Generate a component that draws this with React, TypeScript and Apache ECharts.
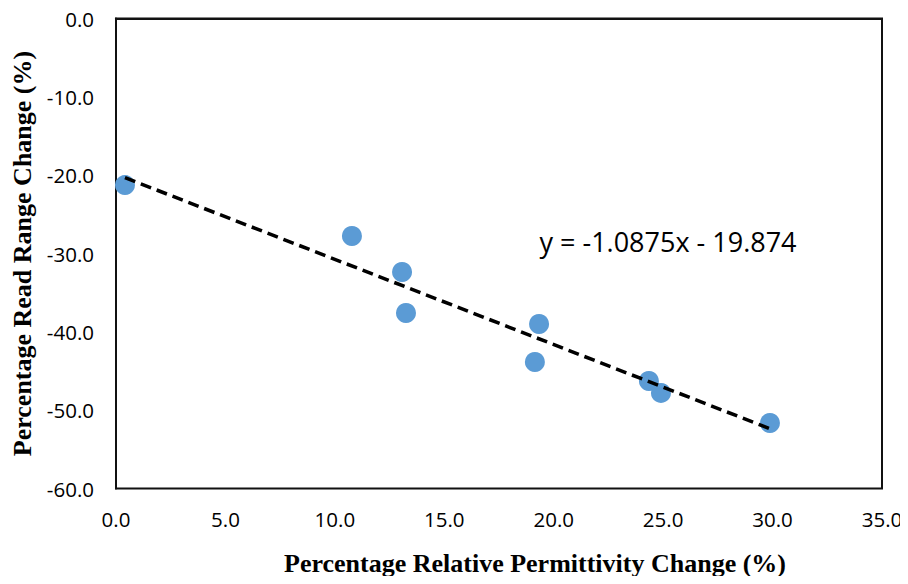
import React, { useEffect, useRef } from "react";
import * as echarts from "echarts";

const permittivityChange = [0.41, 10.78, 13.07, 13.25, 19.33, 19.14, 24.35, 24.9, 29.88];
const readRangeChange = [-21.26, -27.77, -32.36, -37.6, -39.0, -43.85, -46.28, -47.8, -51.64];
const trendSlope = -1.0875;
const trendIntercept = -19.874;
const equationText = "y = -1.0875x - 19.874";
const xTitle = "Percentage Relative Permittivity Change (%)";
const yTitle = "Percentage Read Range Change (%)";

export default function App() {
  const ref = useRef<HTMLDivElement>(null);
  useEffect(() => {
    if (!ref.current) return;
    const chart = echarts.init(ref.current, null, { renderer: "svg" });
    const points = permittivityChange.map((x, i) => [x, readRangeChange[i]]);
    const xMin = Math.min(...permittivityChange);
    const xMax = Math.max(...permittivityChange);
    const trend = [
      [xMin, trendSlope * xMin + trendIntercept],
      [xMax, trendSlope * xMax + trendIntercept],
    ];
    const tickFont = { fontFamily: "Open Sans", fontSize: 20.5, color: "#000" };
    chart.setOption({
      animation: false,
      backgroundColor: "#fff",
      grid: {
        left: 116,
        top: 18.5,
        right: 26,
        bottom: 95.5,
        show: true,
        borderColor: "#111",
        borderWidth: 2,
      },
      xAxis: {
        type: "value",
        min: 0,
        max: 35,
        interval: 5,
        axisLine: { show: true, lineStyle: { color: "#111", width: 2 } },
        axisTick: { show: false },
        splitLine: { show: false },
        axisLabel: { ...tickFont, margin: 20, formatter: (v: number) => v.toFixed(1) },
      },
      yAxis: {
        type: "value",
        min: -60,
        max: 0,
        interval: 10,
        axisLine: { show: true, lineStyle: { color: "#111", width: 2 } },
        axisTick: { show: false },
        splitLine: { show: false },
        axisLabel: { ...tickFont, margin: 22, formatter: (v: number) => v.toFixed(1) },
      },
      series: [
        {
          type: "line",
          data: trend,
          symbol: "none",
          lineStyle: { color: "#000", width: 3.5, type: [11, 6] },
          z: 3,
        },
        {
          type: "scatter",
          data: points,
          symbol: "circle",
          symbolSize: 20,
          itemStyle: { color: "#5B9BD5", opacity: 1 },
          z: 2,
        },
      ],
      graphic: [
        {
          type: "text",
          x: 668,
          y: 241,
          style: {
            text: equationText,
            fontFamily: "Open Sans",
            fontSize: 27,
            fill: "#000",
            align: "center",
            verticalAlign: "middle",
          },
        },
        {
          type: "text",
          x: 535,
          y: 563,
          style: {
            text: xTitle,
            fontFamily: "Liberation Serif",
            fontWeight: "bold",
            fontSize: 26,
            fill: "#000",
            align: "center",
            verticalAlign: "middle",
          },
        },
        {
          type: "text",
          x: 22,
          y: 253.5,
          rotation: Math.PI / 2,
          style: {
            text: yTitle,
            fontFamily: "Liberation Serif",
            fontWeight: "bold",
            fontSize: 26,
            fill: "#000",
            align: "center",
            verticalAlign: "middle",
          },
        },
      ],
    });
    return () => chart.dispose();
  }, []);
  return <div ref={ref} style={{ width: 908, height: 584, margin: -8 }} />;
}
